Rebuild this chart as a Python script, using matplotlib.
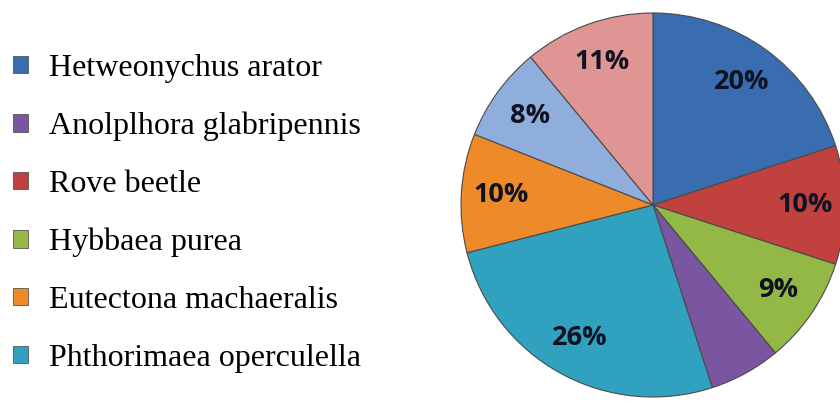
import matplotlib
import matplotlib.pyplot as plt
from matplotlib.patches import Patch

matplotlib.use("Agg")

# slices, clockwise from 12 o'clock
names = ["Hetweonychus arator", "Rove beetle", "Hybbaea purea",
         "Anolplhora glabripennis", "Phthorimaea operculella",
         "Eutectona machaeralis", "", ""]
values = [20, 10, 9, 6, 26, 10, 8, 11]
colors = ["#3A6DB0", "#C0413D", "#93B845", "#7A55A0", "#31A1C0",
          "#EE8A2A", "#8FAEDC", "#DE9594"]
legend_order = ["Hetweonychus arator", "Anolplhora glabripennis", "Rove beetle",
                "Hybbaea purea", "Eutectona machaeralis", "Phthorimaea operculella"]

fig = plt.figure(figsize=(8.4, 4.05), dpi=100)

# pie axes: center ~ (653, 205) px, radius ~192 px
ax = fig.add_axes([461 / 840, 8 / 405, 384 / 840, 384 / 405])
wedges, texts, autotexts = ax.pie(
    values, colors=colors, startangle=90, counterclock=False,
    autopct=lambda p: "" if round(p) == 6 else f"{p:.0f}%",
    pctdistance=0.79,
    wedgeprops=dict(edgecolor="#4a4a4a", linewidth=0.8),
    textprops=dict(fontsize=19.5, fontweight="bold", color="#0f1222",
                   family="Open Sans"),
)
ax.set_xlim(-1, 1)
ax.set_ylim(-1, 1)
ax.set_aspect("equal")
ax.axis("off")

handles = [Patch(facecolor=colors[names.index(n)], edgecolor="#555555",
                 linewidth=0.6) for n in legend_order]
fig.legend(handles, legend_order, loc="upper left",
           bbox_to_anchor=(13 / 840, 1 - 54 / 405), frameon=False,
           prop=dict(family="Liberation Serif", size=23),
           handlelength=0.46, handleheight=0.46, handletextpad=0.68,
           labelspacing=0.9, borderaxespad=0, borderpad=0)

fig.savefig("out.png", dpi=100)
